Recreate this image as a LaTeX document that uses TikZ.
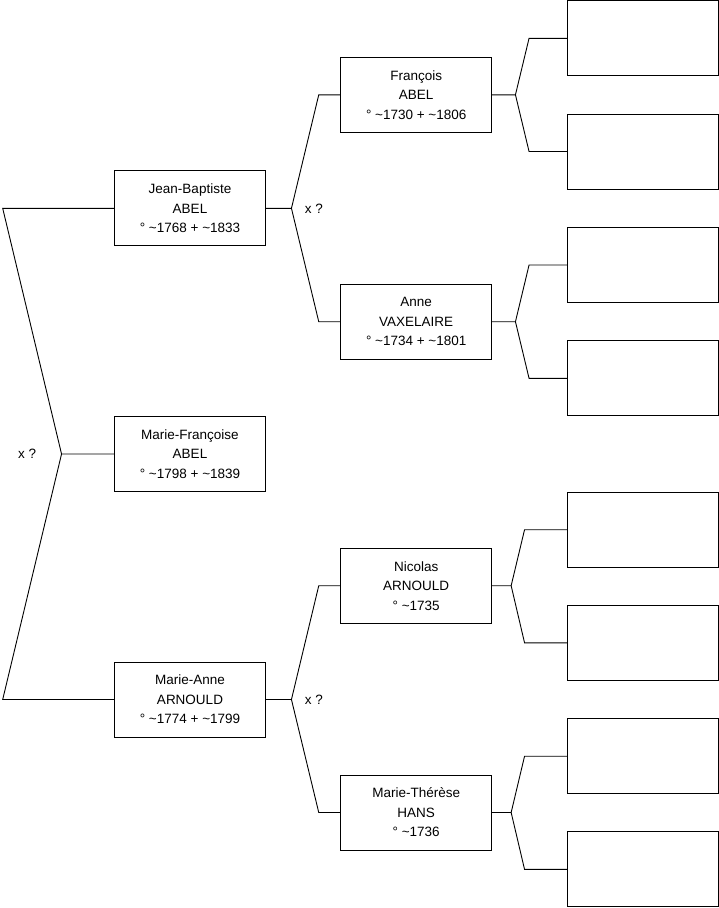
\documentclass[tikz,border=0pt]{standalone}
\usepackage{fontspec}
\setmainfont{Liberation Sans}
\usetikzlibrary{positioning}

\begin{document}
\begin{tikzpicture}[x=1pt, y=-1pt, line width=0.9pt,
  person/.style={rectangle, draw, minimum width=151pt, minimum height=75pt, inner sep=0pt, align=center, font=\fontsize{13.5}{19.5}\selectfont},
  union/.style={inner sep=0pt, font=\fontsize{13.5}{16}\selectfont}]
  \useasboundingbox (0,0) rectangle (719,908);
  % generation 1
  \node[person] (jb) at (190,208.3) {Jean-Baptiste\\ABEL\\° \textasciitilde1768 + \textasciitilde1833};
  \node[person] (mf) at (190,454) {Marie-Françoise\\ABEL\\° \textasciitilde1798 + \textasciitilde1839};
  \node[person] (ma) at (190,699.5) {Marie-Anne\\ARNOULD\\° \textasciitilde1774 + \textasciitilde1799};
  % generation 2
  \node[person] (fra) at (416.2,94.8) {François\\ABEL\\° \textasciitilde1730 + \textasciitilde1806};
  \node[person] (ann) at (416.2,321.7) {Anne\\VAXELAIRE\\° \textasciitilde1734 + \textasciitilde1801};
  \node[person] (nic) at (416.2,585.7) {Nicolas\\ARNOULD\\° \textasciitilde1735};
  \node[person] (mth) at (416.2,812.5) {Marie-Thérèse\\HANS\\° \textasciitilde1736};
  % generation 3 (empty)
  \node[person] (frafa) at (643,38.3) {};
  \node[person] (framo) at (643,151.5) {};
  \node[person] (annfa) at (643,265) {};
  \node[person] (annmo) at (643,378.3) {};
  \node[person] (nicfa) at (643,529.7) {};
  \node[person] (nicmo) at (643,642.8) {};
  \node[person] (mthfa) at (643,756.2) {};
  \node[person] (mthmo) at (643,869.4) {};

  % parents of Marie-Françoise
  \coordinate (e0) at (2.7,0);
  \draw (mf.west) -- ++(-52.5,0) coordinate (f0) -- (jb.west -| e0) -- (jb.west);
  \draw (f0) -- (ma.west -| e0) -- (ma.west);
  \node[union, left=25pt of f0] (u0) {x ?};

  % parents of Jean-Baptiste
  \draw (jb.east) -- ++(25.5,0) coordinate (f1) -- ([xshift=-21.5pt]fra.west) -- (fra.west);
  \draw (f1) -- ([xshift=-21.5pt]ann.west) -- (ann.west);
  \node[union, right=13pt of f1] (u1) {x ?};

  % parents of Marie-Anne
  \draw (ma.east) -- ++(25.5,0) coordinate (f2) -- ([xshift=-21.5pt]nic.west) -- (nic.west);
  \draw (f2) -- ([xshift=-21.5pt]mth.west) -- (mth.west);
  \node[union, right=13pt of f2] (u2) {x ?};

  % generation 3 links
  \draw (fra.east) -- ++(23.3,0) coordinate (f3) -- ([xshift=-38pt]frafa.west) -- (frafa.west);
  \draw (f3) -- ([xshift=-38pt]framo.west) -- (framo.west);
  \draw (ann.east) -- ++(23.3,0) coordinate (f4) -- ([xshift=-38pt]annfa.west) -- (annfa.west);
  \draw (f4) -- ([xshift=-38pt]annmo.west) -- (annmo.west);
  \draw (nic.east) -- ++(19,0) coordinate (f5) -- ([xshift=-42.5pt]nicfa.west) -- (nicfa.west);
  \draw (f5) -- ([xshift=-42.5pt]nicmo.west) -- (nicmo.west);
  \draw (mth.east) -- ++(19,0) coordinate (f6) -- ([xshift=-42.5pt]mthfa.west) -- (mthfa.west);
  \draw (f6) -- ([xshift=-42.5pt]mthmo.west) -- (mthmo.west);
\end{tikzpicture}
\end{document}
